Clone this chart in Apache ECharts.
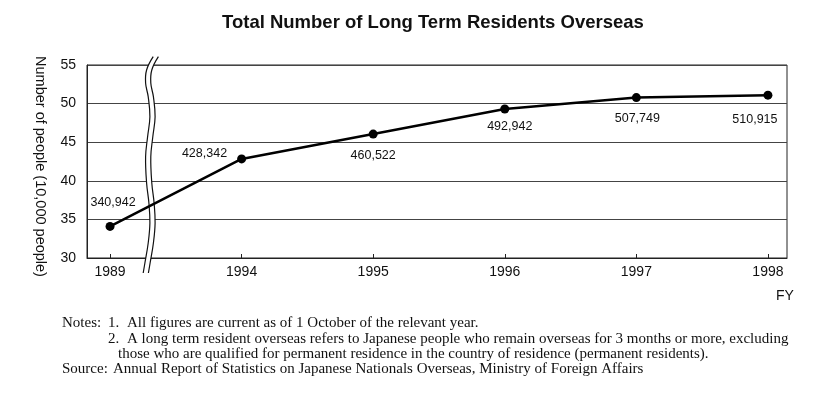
<!DOCTYPE html>
<html>
<head>
<meta charset="utf-8">
<script src="https://cdn.jsdelivr.net/npm/echarts@6/dist/echarts.min.js"></script>
<style>
html,body{margin:0;padding:0;background:#fff;}
#c{width:836px;height:397px;}
</style>
</head>
<body>
<div id="c"></div>
<script>
// ---- data ----
const years = ['1989', '1994', '1995', '1996', '1997', '1998'];
const residents = [340942, 428342, 460522, 492942, 507749, 510915];
const yTicks = [30, 35, 40, 45, 50, 55];
const labelText = ['340,942', '428,342', '460,522', '492,942', '507,749', '510,915'];

const titleText = 'Total Number of Long Term Residents Overseas';
const yName = 'Number of people (10,000 people)';
const note1 = 'All figures are current as of 1 October of the relevant year.';
const note2a = 'A long term resident overseas refers to Japanese people who remain overseas for 3 months or more, excluding';
const note2b = 'those who are qualified for permanent residence in the country of residence (permanent residents).';
const source = 'Annual Report of Statistics on Japanese Nationals Overseas, Ministry of Foreign Affairs';

// label placement per point (style only)
const labelPos = [
  {position: 'top', offset: [3, -5]},
  {position: 'left', offset: [-2, -5]},
  {position: 'bottom', offset: [0, 2]},
  {position: 'bottom', offset: [5, -2]},
  {position: 'bottom', offset: [1, 2]},
  {position: 'bottom', offset: [-13, 5]}
];

const seriesData = residents.map((v, i) => ({
  value: [i, v / 10000],
  label: Object.assign({show: true, formatter: labelText[i]}, labelPos[i])
}));

// break decoration (center line of the double wavy line)
const brk = [[155.8,56.7],[149.2,70],[148.2,83],[150.8,96.7],[152.5,116.7],[150.2,136.7],[148.2,156.7],[149.2,183],[151.5,203],[152.5,223],[150.8,243],[147.5,263],[145.8,273]];
const shift = (pts, d) => pts.map(p => [p[0] + d, p[1]]);

const chart = echarts.init(document.getElementById('c'));
const sans = 'Liberation Sans, Arial, sans-serif';
const serif = 'Liberation Serif, Times New Roman, serif';
const txt = (x, y, s) => ({type: 'text', left: x, top: y, style: {text: s, fontFamily: serif, fontSize: 15, fill: '#111'}});

chart.setOption({
  animation: false,
  backgroundColor: '#fff',
  title: {
    text: titleText,
    left: 217,
    top: 8,
    textStyle: {fontFamily: sans, fontSize: 18.5, fontWeight: 'bold', color: '#111'}
  },
  grid: {
    left: 87, right: 49, top: 65, bottom: 139,
    show: true, borderColor: '#222', borderWidth: 1, containLabel: false
  },
  xAxis: {
    type: 'value',
    min: -0.175, max: 5.145,
    axisLine: {show: true, onZero: false, lineStyle: {color: '#222', width: 1}},
    axisTick: {show: true, inside: true, length: 4, customValues: years.map((y, i) => i), lineStyle: {color: '#222'}},
    axisLabel: {
      customValues: years.map((y, i) => i),
      formatter: v => years[Math.round(v)],
      color: '#111', fontFamily: sans, fontSize: 14, margin: 7
    },
    splitLine: {show: false}
  },
  yAxis: {
    type: 'value',
    min: yTicks[0], max: yTicks[yTicks.length - 1], interval: 5,
    name: yName,
    nameLocation: 'middle',
    nameRotate: -90,
    nameGap: 40,
    nameTextStyle: {fontFamily: sans, fontSize: 14.5, color: '#111', padding: [0, 0, 0, 10]},
    axisLine: {show: true, onZero: false, lineStyle: {color: '#222'}},
    axisTick: {show: false},
    axisLabel: {color: '#111', fontFamily: sans, fontSize: 14, margin: 11},
    splitLine: {show: true, lineStyle: {color: '#444', width: 1}}
  },
  series: [{
    type: 'line',
    data: seriesData,
    symbol: 'circle',
    symbolSize: 9,
    itemStyle: {color: '#000'},
    lineStyle: {color: '#000', width: 2.5},
    label: {color: '#111', fontFamily: sans, fontSize: 12.5, distance: 8},
    z: 3
  }],
  graphic: [
    {type: 'polyline', z: 1, shape: {points: brk, smooth: 0.4}, style: {stroke: '#fff', lineWidth: 5, fill: null}},
    {type: 'polyline', z: 1, shape: {points: shift(brk, -2.6), smooth: 0.4}, style: {stroke: '#111', lineWidth: 1.2, fill: null}},
    {type: 'polyline', z: 1, shape: {points: shift(brk, 2.6), smooth: 0.4}, style: {stroke: '#111', lineWidth: 1.2, fill: null}},
    {type: 'text', left: 776, top: 289, style: {text: 'FY', fontFamily: sans, fontSize: 14, fill: '#111'}},
    txt(62, 316, 'Notes:'), txt(108, 316, '1.'), txt(127, 316, note1),
    txt(108, 332, '2.'), txt(127, 332, note2a),
    txt(118, 347, note2b),
    txt(62, 362, 'Source:'), txt(113, 362, source)
  ]
});
</script>
</body>
</html>
